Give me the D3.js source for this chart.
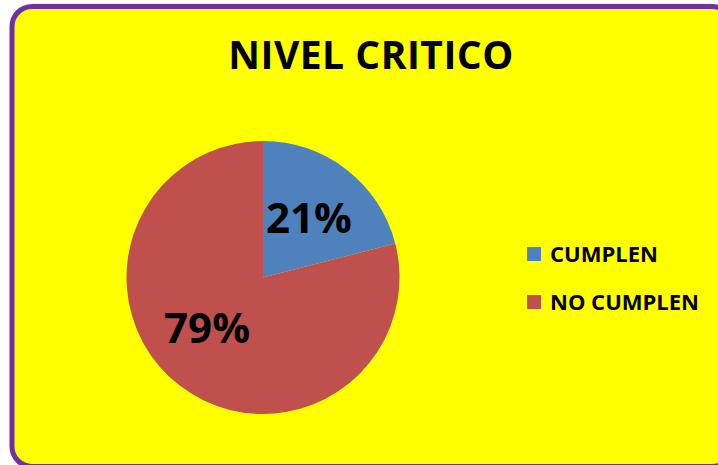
<!DOCTYPE html>
<html>
<head>
<meta charset="utf-8">
<script src="https://cdn.jsdelivr.net/npm/d3@7"></script>
<style>
  body { margin: 0; background: #fff; }
  svg { display: block; font-family: "Open Sans", sans-serif; }
</style>
</head>
<body>
<div id="chart"></div>
<script>
const categories = ["CUMPLEN", "NO CUMPLEN"];
const values = [21, 79];
const percentLabels = ["21%", "79%"];
const colors = ["#4F81BD", "#C0504D"];

const w = 718;
const h = 465;
const cx = 263;
const cy = 277.5;
const radius = 136.5;

const svg = d3.select("#chart")
  .append("svg")
  .attr("width", w)
  .attr("height", h);

// chart area with purple rounded border
svg.append("rect")
  .attr("x", 12)
  .attr("y", 6.5)
  .attr("width", 720)
  .attr("height", 460)
  .attr("rx", 20)
  .attr("fill", "#FFFF00")
  .attr("stroke", "#7030A0")
  .attr("stroke-width", 5);

svg.append("text")
  .attr("x", 371)
  .attr("y", 69)
  .attr("text-anchor", "middle")
  .attr("font-size", 39)
  .attr("letter-spacing", 0.5)
  .attr("font-weight", "bold")
  .attr("fill", "#000")
  .text("NIVEL CRITICO");

const pie = d3.pie().sort(null).value(d => d);
const arcs = pie(values);

const arc = d3.arc().innerRadius(0).outerRadius(radius);
const labelArc = d3.arc().innerRadius(75).outerRadius(75);
const labelNudge = [[0, 0], [-10, -9]];

const g = svg.append("g").attr("transform", `translate(${cx},${cy})`);

g.selectAll("path")
  .data(arcs)
  .enter()
  .append("path")
  .attr("d", arc)
  .attr("fill", (d, i) => colors[i]);

g.selectAll("text")
  .data(arcs)
  .enter()
  .append("text")
  .attr("x", (d, i) => labelArc.centroid(d)[0] + labelNudge[i][0])
  .attr("y", (d, i) => labelArc.centroid(d)[1] + labelNudge[i][1])
  .attr("dy", "0.36em")
  .attr("text-anchor", "middle")
  .attr("font-size", 42)
  .attr("font-weight", "bold")
  .attr("fill", "#000")
  .text((d, i) => percentLabels[i]);

const legend = svg.append("g").attr("transform", "translate(527,247)");
const item = legend.selectAll("g")
  .data(categories)
  .enter()
  .append("g")
  .attr("transform", (d, i) => `translate(0,${i * 48})`);

item.append("rect")
  .attr("width", 14)
  .attr("height", 14)
  .attr("fill", (d, i) => colors[i]);

item.append("text")
  .attr("x", 23)
  .attr("y", 14.5)
  .attr("font-size", 22)
  .attr("font-weight", "bold")
  .attr("fill", "#000")
  .text(d => d);
</script>
</body>
</html>
